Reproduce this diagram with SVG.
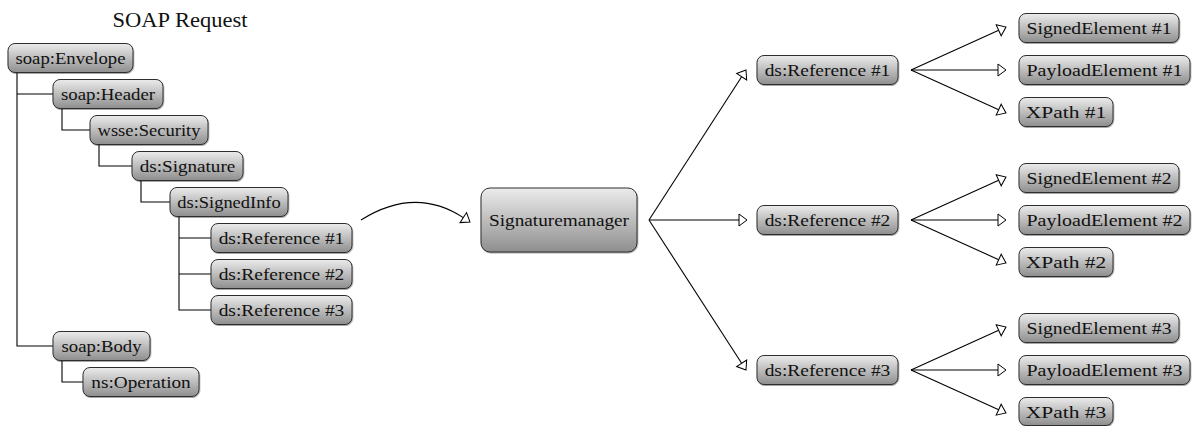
<svg xmlns="http://www.w3.org/2000/svg" width="1192" height="426" viewBox="0 0 1192 426">
  <defs>
    <linearGradient id="shade" x1="0" y1="0" x2="0" y2="1">
      <stop offset="0" stop-color="#ececec"/>
      <stop offset="1" stop-color="#8e8e8e"/>
    </linearGradient>
    <filter id="shadow" x="-10%" y="-20%" width="120%" height="150%">
      <feDropShadow dx="0.6" dy="1" stdDeviation="0.5" flood-color="#000" flood-opacity="0.35"/>
    </filter>
    <!-- open triangle arrowhead; the line ends at the base, the tip extends 8px beyond -->
    <marker id="tri" markerUnits="userSpaceOnUse" markerWidth="12" markerHeight="16" refX="1" refY="8" orient="auto" overflow="visible">
      <path d="M1,2 L9,8 L1,14 Z" fill="#fff" stroke="#000" stroke-width="1" stroke-linejoin="miter"/>
    </marker>
    <style>
      .box { fill: url(#shade); stroke: #2e2e2e; stroke-width: 1; filter: url(#shadow); }
      text { font-family: "Liberation Serif", "DejaVu Serif", serif; fill: #111; text-anchor: middle; }
      .lbl { font-size: 17.5px; }
      .title { font-size: 20.5px; }
      .wire { fill: none; stroke: #000; stroke-width: 1.1; }
      .arrow { fill: none; stroke: #000; stroke-width: 1.1; marker-end: url(#tri); }
    </style>
  </defs>

  <text class="title" x="180" y="27" textLength="135" lengthAdjust="spacingAndGlyphs">SOAP Request</text>

  <!-- connectors -->
  <g id="connectors">
    <!-- message tree -->
    <path class="wire" d="M17,72.5 V346 H53 M17,94 H53"/>
    <path class="wire" d="M62,108.5 V130 H90"/>
    <path class="wire" d="M99,144.5 V166 H132"/>
    <path class="wire" d="M141,180.5 V202 H170"/>
    <path class="wire" d="M179,216.5 V310 H211 M179,238 H211 M179,274 H211"/>
    <path class="wire" d="M62,360.5 V382 H83"/>
    <!-- reference handed to the manager -->
    <path class="arrow" d="M361,220 Q415,186 463.3,217.6"/>
    <!-- manager to references -->
    <path class="arrow" d="M649,220 L741.65,76.72"/>
    <path class="arrow" d="M649,220 L739,220"/>
    <path class="arrow" d="M649,220 L741.65,363.28"/>
    <!-- reference #1 -->
    <path class="arrow" d="M911,70 L998.7,30.3"/>
    <path class="arrow" d="M911,70 L998,70"/>
    <path class="arrow" d="M911,70 L998.7,109.7"/>
    <!-- reference #2 -->
    <path class="arrow" d="M911,220 L998.7,180.3"/>
    <path class="arrow" d="M911,220 L998,220"/>
    <path class="arrow" d="M911,220 L998.7,259.7"/>
    <!-- reference #3 -->
    <path class="arrow" d="M911,370 L998.7,330.3"/>
    <path class="arrow" d="M911,370 L998,370"/>
    <path class="arrow" d="M911,370 L998.7,409.7"/>
  </g>

  <!-- SOAP message tree -->
  <g id="envelope"><rect class="box" x="8" y="43.5" width="125" height="29" rx="7"/><text class="lbl" x="70.5" y="64" textLength="110" lengthAdjust="spacingAndGlyphs">soap:Envelope</text></g>
  <g id="header"><rect class="box" x="53" y="79.5" width="110" height="29" rx="7"/><text class="lbl" x="108" y="100" textLength="94" lengthAdjust="spacingAndGlyphs">soap:Header</text></g>
  <g id="security"><rect class="box" x="90" y="115.5" width="118" height="29" rx="7"/><text class="lbl" x="149" y="136" textLength="103" lengthAdjust="spacingAndGlyphs">wsse:Security</text></g>
  <g id="signature"><rect class="box" x="132" y="151.5" width="111" height="29" rx="7"/><text class="lbl" x="187.5" y="172" textLength="95.5" lengthAdjust="spacingAndGlyphs">ds:Signature</text></g>
  <g id="signedinfo"><rect class="box" x="170" y="187.5" width="118" height="29" rx="7"/><text class="lbl" x="229" y="208" textLength="103.5" lengthAdjust="spacingAndGlyphs">ds:SignedInfo</text></g>
  <g id="msg-ref1"><rect class="box" x="211" y="223.5" width="141" height="29" rx="7"/><text class="lbl" x="281.5" y="244" textLength="125.7" lengthAdjust="spacingAndGlyphs">ds:Reference #1</text></g>
  <g id="msg-ref2"><rect class="box" x="211" y="259.5" width="141" height="29" rx="7"/><text class="lbl" x="281.5" y="280" textLength="125.7" lengthAdjust="spacingAndGlyphs">ds:Reference #2</text></g>
  <g id="msg-ref3"><rect class="box" x="211" y="295.5" width="141" height="29" rx="7"/><text class="lbl" x="281.5" y="316" textLength="125.7" lengthAdjust="spacingAndGlyphs">ds:Reference #3</text></g>
  <g id="body"><rect class="box" x="53" y="331.5" width="97" height="29" rx="7"/><text class="lbl" x="101.5" y="352" textLength="80" lengthAdjust="spacingAndGlyphs">soap:Body</text></g>
  <g id="operation"><rect class="box" x="83" y="367.5" width="116" height="29" rx="7"/><text class="lbl" x="141" y="388" textLength="99.5" lengthAdjust="spacingAndGlyphs">ns:Operation</text></g>

  <!-- manager -->
  <g id="signaturemanager"><rect class="box" x="481" y="188" width="156" height="64" rx="9"/><text class="lbl" x="559" y="226" textLength="140" lengthAdjust="spacingAndGlyphs">Signaturemanager</text></g>

  <!-- resolved references -->
  <g id="ref1"><rect class="box" x="757" y="55.5" width="141" height="29" rx="7"/><text class="lbl" x="827.5" y="76" textLength="125.7" lengthAdjust="spacingAndGlyphs">ds:Reference #1</text></g>
  <g id="ref2"><rect class="box" x="757" y="205.5" width="141" height="29" rx="7"/><text class="lbl" x="827.5" y="226" textLength="125.7" lengthAdjust="spacingAndGlyphs">ds:Reference #2</text></g>
  <g id="ref3"><rect class="box" x="757" y="355.5" width="141" height="29" rx="7"/><text class="lbl" x="827.5" y="376" textLength="125.7" lengthAdjust="spacingAndGlyphs">ds:Reference #3</text></g>

  <g id="signed1"><rect class="box" x="1019" y="13.5" width="160" height="29" rx="7"/><text class="lbl" x="1099" y="34" textLength="145" lengthAdjust="spacingAndGlyphs">SignedElement #1</text></g>
  <g id="payload1"><rect class="box" x="1019" y="55.5" width="171" height="29" rx="7"/><text class="lbl" x="1104.5" y="76" textLength="156" lengthAdjust="spacingAndGlyphs">PayloadElement #1</text></g>
  <g id="xpath1"><rect class="box" x="1019" y="97.5" width="94" height="29" rx="7"/><text class="lbl" x="1066" y="118" textLength="80.5" lengthAdjust="spacingAndGlyphs">XPath #1</text></g>

  <g id="signed2"><rect class="box" x="1019" y="163.5" width="160" height="29" rx="7"/><text class="lbl" x="1099" y="184" textLength="145" lengthAdjust="spacingAndGlyphs">SignedElement #2</text></g>
  <g id="payload2"><rect class="box" x="1019" y="205.5" width="171" height="29" rx="7"/><text class="lbl" x="1104.5" y="226" textLength="156" lengthAdjust="spacingAndGlyphs">PayloadElement #2</text></g>
  <g id="xpath2"><rect class="box" x="1019" y="247.5" width="94" height="29" rx="7"/><text class="lbl" x="1066" y="268" textLength="80.5" lengthAdjust="spacingAndGlyphs">XPath #2</text></g>

  <g id="signed3"><rect class="box" x="1019" y="313.5" width="160" height="29" rx="7"/><text class="lbl" x="1099" y="334" textLength="145" lengthAdjust="spacingAndGlyphs">SignedElement #3</text></g>
  <g id="payload3"><rect class="box" x="1019" y="355.5" width="171" height="29" rx="7"/><text class="lbl" x="1104.5" y="376" textLength="156" lengthAdjust="spacingAndGlyphs">PayloadElement #3</text></g>
  <g id="xpath3"><rect class="box" x="1019" y="397.5" width="94" height="28" rx="7"/><text class="lbl" x="1066" y="418" textLength="80.5" lengthAdjust="spacingAndGlyphs">XPath #3</text></g>
</svg>
